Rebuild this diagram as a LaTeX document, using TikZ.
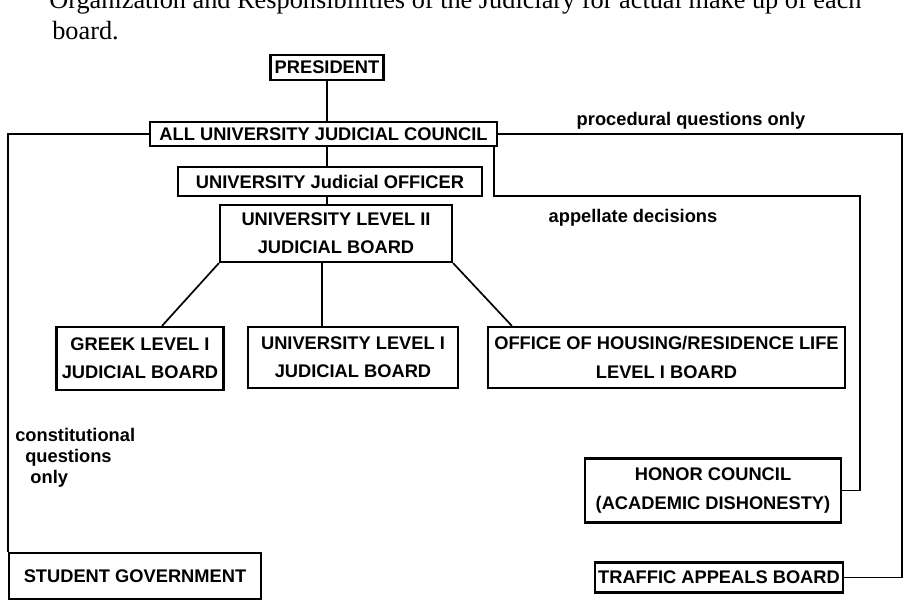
\documentclass[tikz,border=0pt]{standalone}
\usepackage{fontspec}
\setmainfont{Liberation Serif}
\newfontfamily\boardfont{Liberation Sans}
\usepackage{tikz}
\usetikzlibrary{calc}

\tikzset{
    board/.style 2 args={draw, line width=1.5pt, fill=white, align=center, inner sep=0pt,
        minimum width=#1*0.025cm, minimum height=#2*0.025cm,
        font=\boardfont\bfseries\fontsize{13}{20}\selectfont},
    route/.style={line width=1.2pt},
    remark/.style={inner sep=0pt, font=\boardfont\bfseries\fontsize{13}{15}\selectfont},
    heading/.style={anchor=base west, inner sep=0pt, font=\fontsize{18.7}{22}\selectfont}
}

\begin{document}
\begin{tikzpicture}[x=0.025cm, y=-0.025cm]
                \path[use as bounding box, clip] (0,0) rectangle (909,605);

                \node[heading] (hdrone) at (49,8) {Organization and Responsibilities of the Judiciary for actual make up of each};
                \node[heading] (hdrtwo) at (52,39) {board.};

                \node[board={113}{25}] (pres) at (327,67.5) {PRESIDENT};
                \node[board={347}{24}] (aujc) at (323.5,134) {ALL UNIVERSITY JUDICIAL COUNCIL};
                \node[board={304}{29}] (ujo) at (330,181.5) {UNIVERSITY Judicial OFFICER};
                \node[board={232}{57}] (lvltwo) at (336,233.5) {UNIVERSITY LEVEL II\\JUDICIAL BOARD};
                \node[board={167}{63}] (greek) at (140,358.5) {GREEK LEVEL I\\JUDICIAL BOARD};
                \node[board={210}{61}] (lvlone) at (353,357.5) {UNIVERSITY LEVEL I\\JUDICIAL BOARD};
                \node[board={357}{61}] (housing) at (666.5,357.5) {OFFICE OF HOUSING/RESIDENCE LIFE\\LEVEL I BOARD};
                \node[board={256}{64}] (honor) at (713,490.5) {HONOR COUNCIL\\(ACADEMIC DISHONESTY)};
                \node[board={252}{46}] (stgov) at (135,576) {STUDENT GOVERNMENT};
                \node[board={248}{30}] (traffic) at (719,577.5) {TRAFFIC APPEALS BOARD};

                \draw[route] (pres.south) -- (pres.south |- aujc.north);
                \draw[route] (pres.south |- aujc.south) -- (pres.south |- ujo.north);
                \draw[route] (pres.south |- ujo.south) -- (pres.south |- lvltwo.north);

                \draw[route] (lvltwo.south west) -- ($(greek.north)+(22,0)$);
                \draw[route] ($(lvltwo.south)+(-14,0)$) -- ($(lvlone.north)+(-31,0)$);
                \draw[route] (lvltwo.south east) -- ($(housing.north west)+(25,0)$);

                \draw[route] (aujc.west) -| (stgov.north west);
                \draw[route] (aujc.east) -- (902,134) |- (traffic.east);
                \draw[route] ($(aujc.south east)+(-4,0)$) |- (860,196) |- (honor.east);

                \node[remark] (procq) at (691,121) {procedural questions only};
                \node[remark] (appel) at (633,218) {appellate decisions};
                \node[remark, anchor=north west, align=left] (constq) at (15,428) {constitutional\\\hspace*{0.25cm}questions\\\hspace*{0.38cm}only};
            \end{tikzpicture}
\end{document}
